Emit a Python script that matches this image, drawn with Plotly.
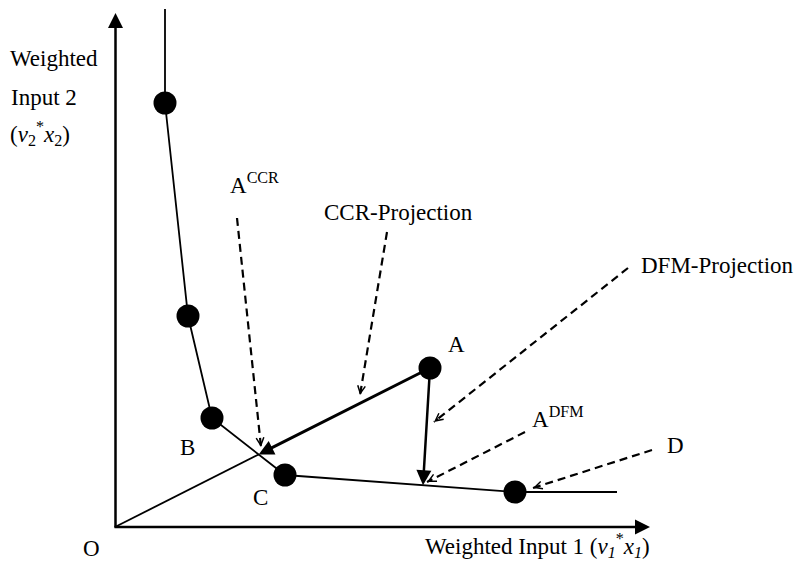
import math
import plotly.graph_objects as go

# ---------------- data (weighted-input units) ----------------
# efficient frontier (piecewise linear), from top down to the right
frontier_x = [5.0, 5.0, 7.3, 9.7, 17.0, 40.0, 50.2]
frontier_y = [51.8, 42.4, 21.1, 10.9, 5.2, 3.5, 3.5]
# DMUs drawn as dots
dot_x = [5.0, 7.3, 9.7, 17.0, 40.0, 31.5]
dot_y = [42.4, 21.1, 10.9, 5.2, 3.5, 15.9]
# unit A and its DFM target abscissa
A = (31.5, 15.9)
B = (9.7, 10.9)
C = (17.0, 5.2)
D = (40.0, 3.5)
dfm_target_x = 30.8

# axis extents
x_axis_end = 53.5
y_axis_end = 51.4

# text labels: (text, x, y, xanchor)
labels = [
    ("Weighted", -10.7, 46.9, "left"),
    ("Input 2", -10.6, 43.0, "left"),
    ("(<i>v</i><sub>2</sub><sup>*</sup><i>x</i><sub>2</sub>)", -10.7, 39.4, "left"),
    ("A<sup>CCR</sup>", 11.3, 34.4, "left"),
    ("CCR-Projection", 28.35, 31.5, "center"),
    ("DFM-Projection", 60.25, 26.2, "center"),
    ("A", 34.1, 18.3, "center"),
    ("A<sup>DFM</sup>", 41.5, 11.0, "left"),
    ("D", 56.0, 8.2, "center"),
    ("B", 7.2, 8.0, "center"),
    ("C", 14.5, 3.0, "center"),
    ("O", -2.4, -2.1, "center"),
    ("Weighted Input 1 (<i>v<sub>1</sub></i><sup>*</sup><i>x<sub>1</sub></i>)", 30.8, -1.8, "left"),
]

# dashed pointer arrows: (start_x, start_y, tip_x, tip_y)
pointers = [
    (12.2, 30.9, 14.6, 8.0),   # A^CCR
    (27.2, 29.5, 24.5, 13.2),  # CCR-Projection
    (51.3, 25.9, 31.9, 10.5),  # DFM-Projection
    (41.0, 9.5, 31.2, 4.5),    # A^DFM
    (53.7, 7.7, 41.8, 3.9),    # D
]

# ---------------- derived points ----------------
# A^CCR: radial projection of A onto segment B-C
k = A[1] / A[0]
m = (C[1] - B[1]) / (C[0] - B[0])
accr_x = (B[1] - m * B[0]) / (k - m)
accr_y = k * accr_x
# A^DFM: point on segment C-D at the target abscissa
adfm_x = dfm_target_x
adfm_y = C[1] + (D[1] - C[1]) * (adfm_x - C[0]) / (D[0] - C[0])

FONT = "Liberation Serif"
fig = go.Figure()

# frontier
fig.add_trace(go.Scatter(x=frontier_x, y=frontier_y, mode="lines",
                         line=dict(color="black", width=1.8), hoverinfo="skip"))
# thin ray from origin to A^CCR
fig.add_trace(go.Scatter(x=[0, accr_x], y=[0, accr_y], mode="lines",
                         line=dict(color="black", width=1.8), hoverinfo="skip"))
# dashed pointer lines
for sx, sy, tx, ty in pointers:
    fig.add_trace(go.Scatter(x=[sx, tx], y=[sy, ty], mode="lines",
                             line=dict(color="black", width=2.2, dash="8px,5px"),
                             hoverinfo="skip"))
# dots
fig.add_trace(go.Scatter(x=dot_x, y=dot_y, mode="markers",
                         marker=dict(color="black", size=23), hoverinfo="skip"))

ann = []
# axes
ann.append(dict(x=x_axis_end, y=0, ax=-0.2, ay=0, axref="x", ayref="y",
                showarrow=True, arrowhead=2, arrowwidth=2.5, arrowsize=1.2,
                arrowcolor="black", standoff=0, text=""))
ann.append(dict(x=0.05, y=y_axis_end, ax=0.05, ay=-0.2, axref="x", ayref="y",
                showarrow=True, arrowhead=2, arrowwidth=2.5, arrowsize=1.2,
                arrowcolor="black", standoff=0, text=""))
# CCR projection arrow A -> A^CCR
ann.append(dict(x=accr_x, y=accr_y, ax=A[0], ay=A[1], axref="x", ayref="y",
                showarrow=True, arrowhead=2, arrowwidth=3, arrowsize=1.0,
                arrowcolor="black", standoff=0, text=""))
# DFM projection arrow A -> A^DFM
ann.append(dict(x=adfm_x, y=adfm_y, ax=A[0], ay=A[1], axref="x", ayref="y",
                showarrow=True, arrowhead=2, arrowwidth=2.5, arrowsize=1.2,
                arrowcolor="black", standoff=0, text=""))
# heads of dashed pointers
for sx, sy, tx, ty in pointers:
    dx, dy = tx - sx, ty - sy
    L = math.hypot(dx, dy)
    ann.append(dict(x=tx, y=ty, ax=-dx / L * 7, ay=dy / L * 7,
                    showarrow=True, arrowhead=5, arrowwidth=2, arrowsize=0.75,
                    arrowcolor="black", standoff=0, text=""))
# text
for t, x, y, xa in labels:
    ann.append(dict(x=x, y=y, text=t, showarrow=False, xanchor=xa, yanchor="middle",
                    font=dict(family=FONT, size=23, color="black")))

fig.update_layout(
    width=796, height=562,
    margin=dict(l=0, r=0, t=0, b=0),
    paper_bgcolor="white", plot_bgcolor="white",
    showlegend=False,
    xaxis=dict(range=[-11.5, 68.1], visible=False, fixedrange=True),
    yaxis=dict(range=[-3.5, 52.7], visible=False, fixedrange=True),
    annotations=ann,
)
fig.write_html(
    "out.html",
    config={"displayModeBar": False},
    post_script="document.body.style.margin='0';document.body.style.overflow='hidden';",
)
